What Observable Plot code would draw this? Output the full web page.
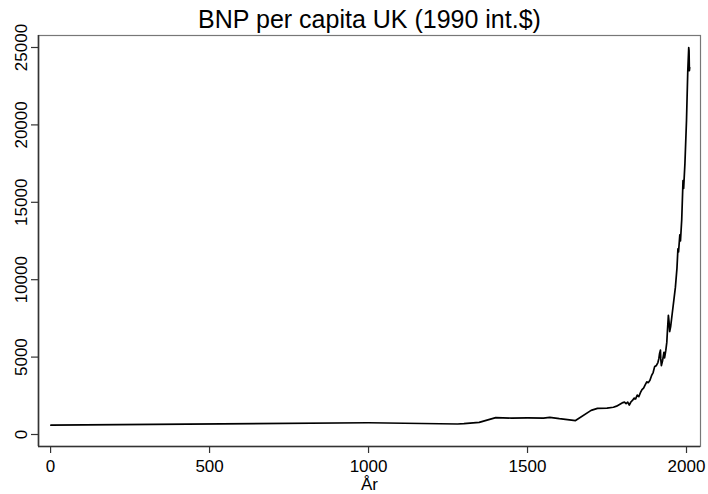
<!DOCTYPE html>
<html>
<head>
<meta charset="utf-8">
<script src="https://cdn.jsdelivr.net/npm/d3@7"></script>
<script src="https://cdn.jsdelivr.net/npm/@observablehq/plot@0.6"></script>
<style>
  html, body { margin: 0; padding: 0; background: white; }
</style>
</head>
<body>
<div id="chart"></div>
<script>
const title = "BNP per capita UK (1990 int.$)";
const xLabel = "År";
const xTicks = [0, 500, 1000, 1500, 2000];
const yTicks = [0, 5000, 10000, 15000, 20000, 25000];
const xDomain = [-38, 2044];
const yDomain = [-775, 25775];

const years = [1, 1000, 1280, 1300, 1348, 1400, 1450, 1500, 1550, 1570, 1600, 1651,
  1700, 1720, 1750, 1770, 1780, 1800, 1805, 1810, 1815, 1820, 1825, 1830, 1835, 1840,
  1845, 1850, 1855, 1860, 1865, 1870, 1875, 1880, 1885, 1890, 1895, 1900, 1905, 1910,
  1913, 1915, 1918, 1919, 1921, 1925, 1929, 1931, 1935, 1938, 1940, 1943, 1945, 1947,
  1950, 1955, 1960, 1965, 1970, 1973, 1975, 1979, 1981, 1985, 1989, 1991, 1995, 2000,
  2004, 2007, 2008, 2009, 2010];
const gdp = [600, 760, 680, 700, 780, 1090, 1060, 1070, 1060, 1110, 1020, 900,
  1560, 1690, 1700, 1760, 1830, 2060, 2090, 2000, 2090, 1900, 2100, 2200, 2350, 2300,
  2550, 2450, 2700, 2900, 3000, 3200, 3400, 3350, 3500, 3800, 4000, 4400, 4450, 4650,
  4900, 5200, 5450, 4900, 4450, 4800, 5300, 4950, 5450, 5950, 6700, 7700, 7300, 6650,
  6950, 7800, 8650, 9500, 10750, 12000, 11800, 12900, 12500, 13900, 16400, 15900, 17500, 20300,
  23500, 25000, 24800, 23500, 23700];

const data = years.map((y, i) => ({year: y, gdp: gdp[i]}));

const chart = Plot.plot({
  width: 708,
  height: 494,
  marginLeft: 38,
  marginRight: 8,
  marginTop: 35,
  marginBottom: 48,
  style: {fontFamily: "'Liberation Sans', Arial, Helvetica, sans-serif", fontSize: "17px", background: "white", color: "black"},
  x: {domain: xDomain},
  y: {domain: yDomain},
  marks: [
    Plot.frame({stroke: "#777", strokeWidth: 1.2}),
    Plot.ruleX([xDomain[0]], {stroke: "#333", strokeWidth: 1.6}),
    Plot.ruleY([yDomain[0]], {stroke: "#333", strokeWidth: 1.6}),
    Plot.axisX({ticks: xTicks, tickSize: 7, tickPadding: 6, tickFormat: d => String(d), label: null, fontSize: 17, stroke: "#333", strokeWidth: 1.2}),
    Plot.axisY({ticks: yTicks, tickSize: 7, tickPadding: 5, tickRotate: -90, tickFormat: d => String(d), label: null, fontSize: 17, stroke: "#333", strokeWidth: 1.2}),
    Plot.line(data, {x: "year", y: "gdp", stroke: "black", strokeWidth: 1.7}),
    Plot.text([title], {frameAnchor: "top", dy: -16, fontSize: 25, lineAnchor: "middle", fill: "black"}),
    Plot.text([xLabel], {frameAnchor: "bottom", dy: 38, fontSize: 17, lineAnchor: "middle", fill: "black"})
  ]
});
document.getElementById("chart").appendChild(chart);
</script>
</body>
</html>
